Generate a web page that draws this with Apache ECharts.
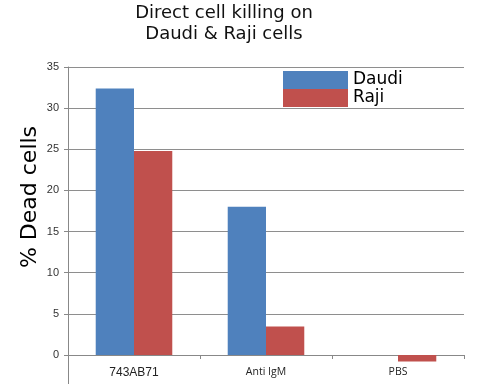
<!DOCTYPE html>
<html>
<head>
<meta charset="utf-8">
<script src="https://cdn.jsdelivr.net/npm/echarts@6/dist/echarts.min.js"></script>
<style>html,body{margin:0;padding:0;background:#fff}#c{width:488px;height:384px}</style>
</head>
<body>
<div id="c"></div>
<script>
const categories = ['743AB71', 'Anti IgM', 'PBS'];
const daudiValues = [32.4, 18.0, 0];
const rajiValues = [24.8, 3.45, -0.8];
const seriesNames = ['Daudi', 'Raji'];
const titleText = 'Direct cell killing on\nDaudi & Raji cells';
const yAxisTitle = '% Dead cells';

const chart = echarts.init(document.getElementById('c'));
chart.setOption({
  animation: false,
  backgroundColor: '#ffffff',
  title: {
    text: titleText,
    left: 224,
    textAlign: 'center',
    top: 3,
    padding: 0,
    textStyle: { fontFamily: 'DejaVu Sans', fontSize: 18, fontWeight: 'normal', color: '#111', lineHeight: 21 }
  },
  legend: {
    data: seriesNames,
    orient: 'vertical',
    left: 283,
    top: 71,
    padding: 0,
    itemGap: 0,
    itemWidth: 65,
    itemHeight: 18,
    icon: 'rect',
    textStyle: { fontFamily: 'DejaVu Sans', fontSize: 17, color: '#000', padding: [0, 0, 0, 0] }
  },
  graphic: [{
    type: 'text',
    x: 30,
    y: 197,
    rotation: Math.PI / 2,
    style: {
      text: yAxisTitle,
      font: '22px "DejaVu Sans"',
      fill: '#000',
      textAlign: 'center',
      textVerticalAlign: 'middle'
    }
  }],
  grid: { left: 68, right: 24, top: 67, height: 329, containLabel: false, outerBoundsMode: 'none' },
  xAxis: {
    type: 'category',
    data: categories,
    offset: -41,
    axisLine: { onZero: false, lineStyle: { color: '#888', width: 1 } },
    axisTick: { show: true, length: 4, interval: 0, lineStyle: { color: '#888' } },
    axisLabel: {
      margin: 12,
      interval: 0,
      formatter: function (v) { return v === '743AB71' ? '{a|' + v + '}' : '{b|' + v + '}'; },
      rich: {
        a: { fontFamily: 'Liberation Sans', fontSize: 12, color: '#222' },
        b: { fontFamily: 'Open Sans', fontSize: 10.5, color: '#222' }
      }
    }
  },
  yAxis: {
    type: 'value',
    min: -5,
    max: 35,
    interval: 5,
    axisLine: { show: true, lineStyle: { color: '#888', width: 1 } },
    axisTick: { show: true, length: 4, lineStyle: { color: '#888' } },
    splitLine: { lineStyle: { color: '#8e8e8e', width: 1 } },
    axisLabel: {
      margin: 9,
      fontFamily: 'Liberation Sans',
      fontSize: 11,
      color: '#333',
      formatter: function (v) { return v < 0 ? '' : String(v); }
    }
  },
  series: [
    { name: seriesNames[0], type: 'bar', data: daudiValues, itemStyle: { color: '#4F81BD' }, barGap: '0%', barCategoryGap: '42%' },
    { name: seriesNames[1], type: 'bar', data: rajiValues, itemStyle: { color: '#C0504D' }, barGap: '0%', barCategoryGap: '42%' }
  ]
});
</script>
</body>
</html>
